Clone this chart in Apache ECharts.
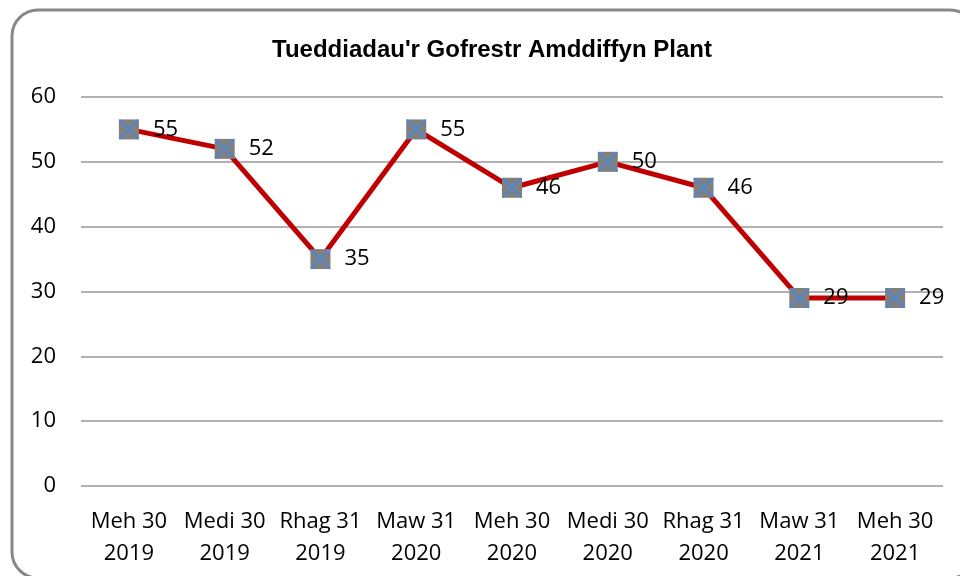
<!DOCTYPE html>
<html><head><meta charset="utf-8">
<script src="https://cdn.jsdelivr.net/npm/echarts@6/dist/echarts.min.js"></script>
<style>html,body{margin:0;padding:0;background:#fff}#c{width:960px;height:576px}</style>
</head><body><div id="c"></div>
<script>
var categories = ['Meh 30\n2019','Medi 30\n2019','Rhag 31\n2019','Maw 31\n2020','Meh 30\n2020','Medi 30\n2020','Rhag 31\n2020','Maw 31\n2021','Meh 30\n2021'];
var values = [55, 52, 35, 55, 46, 50, 46, 29, 29];
var yTicks = {min: 0, max: 60, interval: 10};
var titleText = "Tueddiadau'r Gofrestr Amddiffyn Plant";

var chart = echarts.init(document.getElementById('c'), null, {renderer: 'canvas'});
var font = "'Open Sans', 'Liberation Sans', sans-serif";
chart.setOption({
  animation: false,
  backgroundColor: '#fff',
  graphic: [{
    type: 'rect', silent: true,
    shape: {x: 12, y: 10, width: 964, height: 568, r: 26},
    style: {fill: 'none', stroke: '#888', lineWidth: 3}
  }],
  title: {
    text: titleText, left: 267, top: 33,
    textStyle: {fontFamily: "'Liberation Sans Narrow', 'Arial Narrow', 'Liberation Sans', sans-serif", fontWeight: 'bold', fontSize: 24, color: '#000'}
  },
  grid: {left: 81, right: 17, top: 97, bottom: 90, containLabel: false},
  xAxis: {
    type: 'category', data: categories, boundaryGap: true,
    axisLine: {show: false}, axisTick: {show: false},
    axisLabel: {color: '#000', fontFamily: font, fontSize: 22, lineHeight: 32, margin: 20, interval: 0}
  },
  yAxis: {
    type: 'value', min: yTicks.min, max: yTicks.max, interval: yTicks.interval,
    axisLine: {show: false}, axisTick: {show: false},
    axisLabel: {color: '#000', fontFamily: font, fontSize: 22, margin: 25},
    splitLine: {lineStyle: {color: '#999', width: 1.5}}
  },
  series: [{
    type: 'line', data: values, symbol: 'rect', symbolSize: 20,
    lineStyle: {color: '#C00000', width: 5},
    itemStyle: {color: '#808080', borderColor: '#808080', borderWidth: 0},
    label: {show: true, position: 'right', distance: 14, color: '#000', fontFamily: font, fontSize: 22}
  }, {
    type: 'line', data: values, symbol: 'path://M0,0L10,10M10,0L0,10', symbolSize: 19,
    lineStyle: {width: 0, opacity: 0},
    itemStyle: {color: 'none', borderColor: '#4a86d4', borderWidth: 2}, z: 5, silent: true
  }]
});
</script></body></html>
